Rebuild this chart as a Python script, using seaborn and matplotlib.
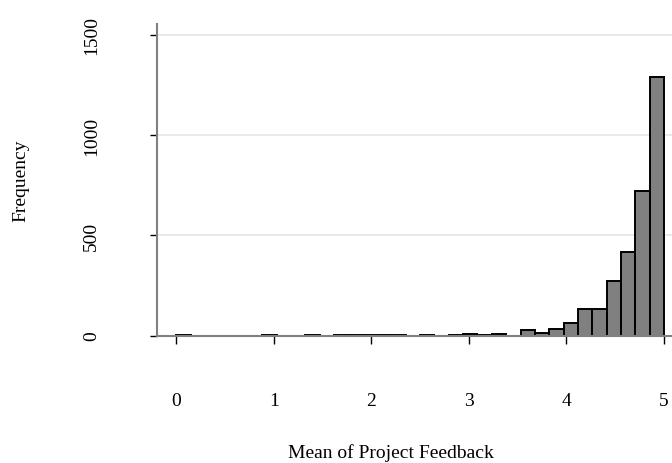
import numpy as np
import pandas as pd
import matplotlib
matplotlib.use("Agg")
import matplotlib.pyplot as plt
import seaborn as sns

# ---- data (34 equal bins between 0 and 5) ----
bin_lo = 0.0
bin_hi = 5.0
n_bins = 34
counts = [3, 0, 0, 0, 0, 0, 3, 0, 0, 2,
          0, 2, 2, 2, 2, 2, 0, 2, 0, 3,
          9, 2, 8, 0, 27, 10, 33, 63, 130, 133,
          270, 417, 720, 1292]
x_ticks = [0, 1, 2, 3, 4, 5]
y_ticks = [0, 500, 1000, 1500]
x_label = "Mean of Project Feedback"
y_label = "Frequency"

edges = np.linspace(bin_lo, bin_hi, n_bins + 1)
centers = (edges[:-1] + edges[1:]) / 2
df = pd.DataFrame({"feedback": centers, "n": counts})

sns.set_theme(style="white")
plt.rcParams["font.family"] = ["Liberation Serif", "DejaVu Serif"]
plt.rcParams["text.color"] = "black"
plt.rcParams["xtick.color"] = "black"
plt.rcParams["ytick.color"] = "black"
plt.rcParams["axes.labelcolor"] = "black"

FS = 14

W, H = 672, 464
fig = plt.figure(figsize=(W / 100, H / 100), dpi=100)
px_left, px_right, px_top, px_bottom = 156.7, 690.0, 25.0, 336.5
ax = fig.add_axes([px_left / W, 1 - px_bottom / H,
                   (px_right - px_left) / W, (px_bottom - px_top) / H])

sns.histplot(data=df, x="feedback", weights="n",
             binwidth=(bin_hi - bin_lo) / n_bins, binrange=(bin_lo, bin_hi),
             ax=ax, color="#808080", edgecolor="black", linewidth=1.4,
             alpha=1.0, zorder=3)

ax.set_xlim(-0.2, (px_right - 176) / 97.6)
ax.set_ylim(0, 1500 * (px_bottom - px_top) / (px_bottom - 36))

ax.set_xticks(x_ticks)
ax.set_yticks(y_ticks)
ax.set_xticklabels([str(v) for v in x_ticks], fontsize=FS)
ax.set_yticklabels([str(v) for v in y_ticks], fontsize=FS, rotation=90,
                   va="center")
ax.tick_params(axis="x", length=6, width=1, color="black", pad=35,
               bottom=True)
ax.tick_params(axis="y", length=5, width=1, color="black", pad=36, left=True)

ax.grid(axis="y", color="#e6e6e6", linewidth=1.2, zorder=0)
ax.grid(axis="x", visible=False)
for s in ["top", "right"]:
    ax.spines[s].set_visible(False)
for s in ["left", "bottom"]:
    ax.spines[s].set_visible(True)
    ax.spines[s].set_color("#808080")
    ax.spines[s].set_linewidth(1.5)
    ax.spines[s].set_zorder(4)

ax.set_xlabel(x_label, fontsize=FS, va="top")
ax.xaxis.set_label_coords((391 - px_left) / (px_right - px_left),
                          -(444 - px_bottom) / (px_bottom - px_top))
ax.set_ylabel(y_label, fontsize=FS, va="center", ha="center")
ax.yaxis.set_label_coords((20.5 - px_left) / (px_right - px_left), 0.5)

fig.savefig("out.png", dpi=100)
